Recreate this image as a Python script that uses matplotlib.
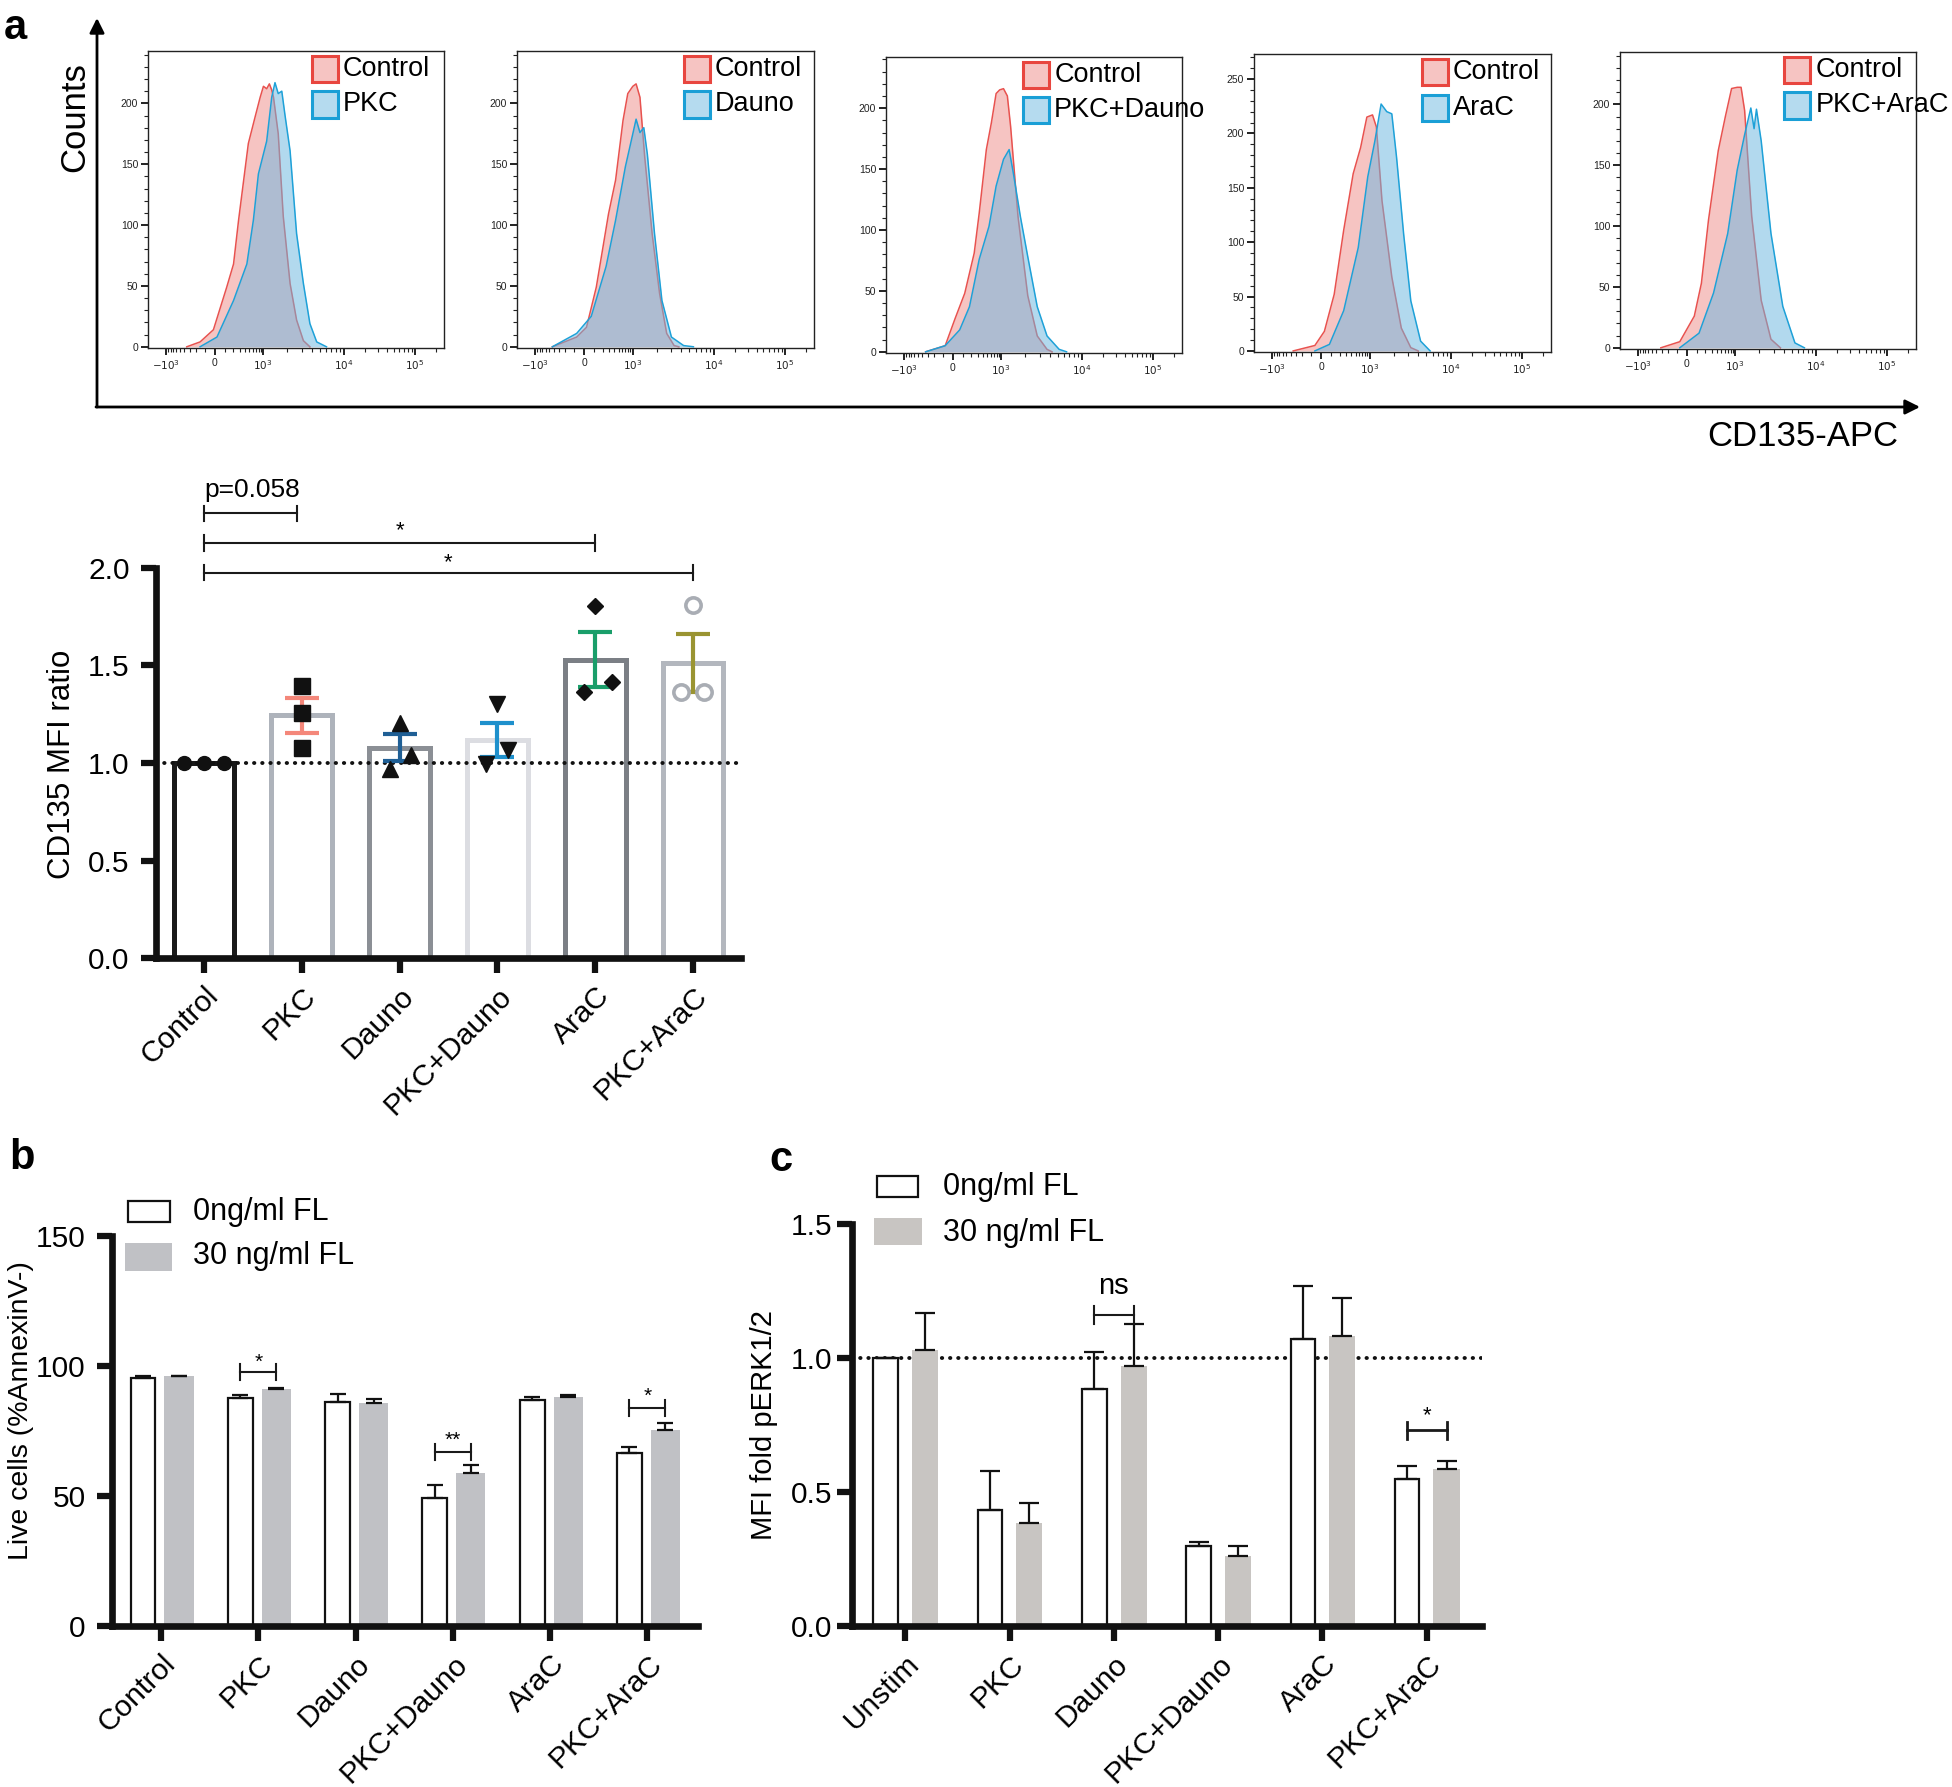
import numpy as np
import matplotlib
matplotlib.use('Agg')
import matplotlib.pyplot as plt
from matplotlib.patches import Rectangle

plt.rcParams['font.family'] = ['Liberation Sans', 'DejaVu Sans']
flow_font = ['Liberation Sans', 'DejaVu Sans']

W, H = 1952, 1787

# ---------------- data ----------------
# flow histograms: x = display channel (0-1000 of the biex axis), y = counts
flow_names = ['PKC', 'Dauno', 'PKC+Dauno', 'AraC', 'PKC+AraC']

ctrl_pos_1 = [131, 176, 221, 266, 289, 306, 339, 362, 379, 390, 401, 410, 418, 424, 440, 457, 480, 502, 525, 547]
ctrl_cnt_1 = [0, 4, 14, 49, 68, 104, 167, 189, 205, 214, 212, 216, 211, 205, 175, 107, 52, 22, 5, 0]
pkc_pos = [176, 233, 289, 334, 356, 373, 401, 418, 429, 440, 452, 463, 480, 502, 525, 547, 570, 603]
pkc_cnt = [0, 8, 38, 68, 104, 142, 169, 205, 217, 208, 210, 190, 161, 93, 52, 19, 4, 0]

ctrl_pos_2 = [119, 201, 234, 267, 308, 332, 357, 373, 390, 401, 414, 430, 455, 480, 504, 529, 545]
ctrl_cnt_2 = [0, 8, 16, 49, 109, 137, 186, 208, 214, 216, 205, 156, 93, 44, 11, 1, 0]
dauno_pos = [119, 201, 250, 300, 332, 365, 390, 401, 414, 427, 439, 463, 488, 520, 561, 594]
dauno_cnt = [0, 11, 25, 66, 104, 148, 175, 187, 176, 180, 158, 93, 38, 8, 1, 0]

ctrl_pos_3 = [134, 200, 233, 266, 298, 315, 339, 356, 372, 384, 397, 410, 421, 446, 479, 511, 544, 561]
ctrl_cnt_3 = [0, 5, 27, 48, 81, 114, 166, 188, 212, 215, 216, 210, 185, 111, 46, 13, 2, 0]
pkcdauno_pos = [134, 200, 249, 282, 315, 348, 372, 397, 416, 430, 454, 479, 511, 544, 585, 610]
pkcdauno_cnt = [0, 5, 18, 37, 76, 103, 136, 158, 166, 147, 111, 78, 37, 13, 2, 0]

ctrl_pos_4 = [132, 205, 237, 270, 302, 334, 359, 380, 399, 412, 431, 464, 496, 528, 553]
ctrl_cnt_4 = [0, 5, 18, 52, 111, 163, 187, 215, 217, 206, 138, 68, 21, 3, 0]
arac_pos = [205, 254, 302, 351, 383, 407, 428, 447, 464, 480, 504, 528, 561, 593]
arac_cnt = [0, 6, 37, 95, 160, 193, 227, 220, 218, 178, 107, 46, 9, 0]

ctrl_pos_5 = [138, 202, 251, 275, 299, 332, 356, 377, 396, 409, 421, 445, 477, 510, 542]
ctrl_cnt_5 = [0, 5, 26, 53, 105, 162, 190, 213, 214, 214, 195, 108, 39, 7, 0]
pkcarac_pos = [202, 267, 316, 364, 396, 421, 442, 453, 461, 477, 510, 550, 591, 623]
pkcarac_cnt = [0, 12, 45, 94, 146, 175, 197, 180, 196, 170, 94, 34, 4, 0]

# panel a: CD135 MFI ratio
groups_a = ['Control', 'PKC', 'Dauno', 'PKC+Dauno', 'AraC', 'PKC+AraC']
mfi_mean = [1.0, 1.245, 1.078, 1.12, 1.53, 1.513]
mfi_sem = [0.0, 0.09, 0.07, 0.087, 0.14, 0.148]
control_pts = [1.0, 1.0, 1.0]
pkc_pts = [1.394, 1.254, 1.075]
dauno_pts = [1.203, 0.97, 1.04]
pkcdauno_pts = [1.30, 0.996, 1.067]
arac_pts = [1.804, 1.362, 1.416]
pkcarac_pts = [1.81, 1.362, 1.362]

# panel b: live cells
groups_b = ['Control', 'PKC', 'Dauno', 'PKC+Dauno', 'AraC', 'PKC+AraC']
live_0 = [95.3, 87.6, 86.0, 49.2, 86.8, 66.5]
live_0_err = [0.8, 1.3, 3.4, 5.2, 1.4, 2.5]
live_30 = [96.0, 91.0, 85.6, 59.0, 88.2, 75.3]
live_30_err = [0.3, 0.6, 1.7, 3.1, 0.7, 2.8]

# panel c: pERK1/2
groups_c = ['Unstim', 'PKC', 'Dauno', 'PKC+Dauno', 'AraC', 'PKC+AraC']
perk_0 = [1.0, 0.433, 0.883, 0.30, 1.07, 0.55]
perk_0_err = [0.0, 0.145, 0.14, 0.0125, 0.20, 0.047]
perk_30 = [1.031, 0.386, 0.969, 0.261, 1.081, 0.586]
perk_30_err = [0.138, 0.072, 0.159, 0.039, 0.142, 0.031]


def frac(l, t, r, b):
    return [l / W, 1 - b / H, (r - l) / W, (b - t) / H]


def biex(v):
    # rough position of a value on the flow display axis
    if v >= 1e4:
        return 662 + 240 * np.log10(v / 1e4)
    if v >= 1e3:
        return 389 + 273 * np.log10(v / 1e3)
    if v >= 0:
        return 226 + 163 * np.arcsinh(v / 200) / np.arcsinh(5)
    return 226 - 165 * np.arcsinh(-v / 200) / np.arcsinh(5)


def bracket(ax, x0, x1, y, h, lw=1.5):
    kw = dict(color='#1a1a1a', lw=lw, clip_on=False, zorder=6)
    ax.plot([x0, x1], [y, y], **kw)
    ax.plot([x0, x0], [y - h, y + h], **kw)
    ax.plot([x1, x1], [y - h, y + h], **kw)


fig = plt.figure(figsize=(W / 100, H / 100), dpi=100)

# overlay for free text / arrows, pixel coords
ov = fig.add_axes([0, 0, 1, 1])
ov.set_xlim(0, W)
ov.set_ylim(H, 0)
ov.axis('off')

ov.annotate('', xy=(97, 18), xytext=(97, 407),
            arrowprops=dict(arrowstyle='-|>', lw=2, color='black', mutation_scale=22, shrinkA=0, shrinkB=0))
ov.annotate('', xy=(1920, 407), xytext=(96, 407),
            arrowprops=dict(arrowstyle='-|>', lw=2, color='black', mutation_scale=22, shrinkA=0, shrinkB=0))
ov.text(75, 117, 'Counts', rotation=90, ha='center', va='center', fontsize=25, family=flow_font)
ov.text(1803, 437, 'CD135-APC', ha='center', va='center', fontsize=25, family=flow_font)

ov.text(15, 28, 'a', fontsize=30, fontweight='bold', ha='center', va='center')
ov.text(22, 1158, 'b', fontsize=30, fontweight='bold', ha='center', va='center')
ov.text(781, 1160, 'c', fontsize=30, fontweight='bold', ha='center', va='center')

# ---------------- flow histograms ----------------
ctrl_pos = [ctrl_pos_1, ctrl_pos_2, ctrl_pos_3, ctrl_pos_4, ctrl_pos_5]
ctrl_cnt = [ctrl_cnt_1, ctrl_cnt_2, ctrl_cnt_3, ctrl_cnt_4, ctrl_cnt_5]
trt_pos = [pkc_pos, dauno_pos, pkcdauno_pos, arac_pos, pkcarac_pos]
trt_cnt = [pkc_cnt, dauno_cnt, pkcdauno_cnt, arac_cnt, pkcarac_cnt]

hist_boxes = [(148, 51, 444, 348), (517, 51, 814, 348), (886, 57, 1182, 353),
              (1254, 54, 1551, 352), (1620, 52, 1916, 349)]
hist_ymax = [243, 243, 242, 273, 243]
leg_x = [0.554, 0.562, 0.463, 0.565, 0.555]

major_vals = [-1e3, 0, 1e3, 1e4, 1e5]
major_lbl = [r'$-10^3$', '0', r'$10^3$', r'$10^4$', r'$10^5$']
minor_vals = ([-m * 100 for m in range(1, 10)] + [m * 100 for m in range(1, 10)] +
              [m * 1e3 for m in range(2, 10)] + [m * 1e4 for m in range(2, 10)] + [2e5])

for i in range(5):
    ax = fig.add_axes(frac(*hist_boxes[i]))
    ax.fill_between(ctrl_pos[i], ctrl_cnt[i], color='#f6c4c2', lw=0, zorder=1)
    ax.plot(ctrl_pos[i], ctrl_cnt[i], color='#e8524f', lw=1.1, zorder=2)
    ax.fill_between(trt_pos[i], trt_cnt[i], color='#6cb6df', alpha=0.52, lw=0, zorder=3)
    ax.plot(trt_pos[i], trt_cnt[i], color='#1ea1d8', lw=1.1, zorder=4)
    ax.set_xlim(0, 1000)
    ax.set_ylim(-1, hist_ymax[i])
    ax.set_xticks([biex(v) for v in major_vals])
    ax.set_xticklabels(major_lbl)
    ax.set_xticks([biex(v) for v in minor_vals], minor=True)
    ax.set_yticks(np.arange(0, hist_ymax[i], 50))
    ax.set_yticks(np.arange(0, hist_ymax[i], 10), minor=True)
    ax.tick_params(which='major', length=5, width=1.4, labelsize=7.5, pad=2, colors='#222')
    ax.tick_params(which='minor', length=3, width=0.8, colors='#222')
    for s in ax.spines.values():
        s.set_linewidth(1.0)
        s.set_color('#222')
    lx = leg_x[i]
    for yc, fc, ec, name in [(0.94, '#f6c4c2', '#e8463f', 'Control'),
                             (0.82, '#b5dbef', '#1a9fd6', flow_names[i])]:
        ax.add_patch(Rectangle((lx, yc - 0.044), 0.088, 0.088, transform=ax.transAxes,
                               facecolor=fc, edgecolor=ec, lw=2.2, clip_on=False, zorder=6))
        ax.text(lx + 0.105, yc, name, transform=ax.transAxes, ha='left', va='center',
                fontsize=19.5, family=flow_font, clip_on=False, zorder=6)

# ---------------- panel a bars ----------------
ax_a = fig.add_axes(frac(156, 568, 741, 958))
xa = np.arange(len(groups_a))
bar_edge_a = ['#1a1a1a', '#aeb3bb', '#8b8f95', '#dcdde2', '#7b7f85', '#b3b7be']
err_col_a = ['#1a1a1a', '#f4877a', '#1f5f95', '#1e90cc', '#1a9e6a', '#9a9432']
pts_a = [control_pts, pkc_pts, dauno_pts, pkcdauno_pts, arac_pts, pkcarac_pts]
jit_a = [[-0.2, 0, 0.21], [0, 0, 0], [0, -0.1, 0.12], [0, -0.12, 0.11], [0, -0.12, 0.17], [0, -0.12, 0.11]]
mk_a = [dict(marker='o', ms=10, mfc='#111', mec='#111'),
        dict(marker='s', ms=11, mfc='#111', mec='#111'),
        dict(marker='^', ms=11, mfc='#111', mec='#111'),
        dict(marker='v', ms=11, mfc='#111', mec='#111'),
        dict(marker='D', ms=8, mfc='#111', mec='#111'),
        dict(marker='o', ms=11, mfc='white', mec='#a9adb4', mew=2.6)]

for i in xa:
    ax_a.bar(i, mfi_mean[i], width=0.62, facecolor='white', edgecolor=bar_edge_a[i],
             linewidth=3.6, zorder=2)
ax_a.axhline(1.0, ls=(0, (0.1, 2.0)), lw=2.8, color='#111', dash_capstyle='round', zorder=3)
for i in xa[1:]:
    ax_a.errorbar(i, mfi_mean[i], yerr=mfi_sem[i], fmt='none', ecolor=err_col_a[i],
                  elinewidth=3, capsize=12.5, capthick=3, zorder=4)
for i in xa:
    ax_a.plot(i + np.array(jit_a[i]), pts_a[i], ls='none', zorder=5, clip_on=False, **mk_a[i])

ax_a.set_xlim(-0.49, 5.49)
ax_a.set_ylim(0, 2.0)
ax_a.set_yticks([0, 0.5, 1.0, 1.5, 2.0])
ax_a.set_yticklabels(['0.0', '0.5', '1.0', '1.5', '2.0'])
ax_a.set_xticks(xa)
ax_a.set_xticklabels(groups_a, rotation=45, ha='right', rotation_mode='anchor')

bracket(ax_a, 0, 0.95, 2.28, 0.04)
ax_a.text(0.49, 2.40, 'p=0.058', ha='center', va='center', fontsize=19, clip_on=False)
bracket(ax_a, 0, 4, 2.128, 0.04)
ax_a.text(2.0, 2.19, '*', ha='center', va='center', fontsize=16, clip_on=False)
bracket(ax_a, 0, 5, 1.976, 0.04)
ax_a.text(2.5, 2.025, '*', ha='center', va='center', fontsize=16, clip_on=False)
ov.text(62, 764, 'CD135 MFI ratio', rotation=90, ha='center', va='center', fontsize=22.5)

# ---------------- panel b ----------------
ax_b = fig.add_axes(frac(112, 1236, 698, 1626))
xb = np.arange(len(groups_b))
ax_b.bar(xb - 0.185, live_0, 0.255, facecolor='white', edgecolor='#111', lw=1.6, zorder=2)
ax_b.bar(xb + 0.185, live_30, 0.3, facecolor='#c0c1c5', lw=0, zorder=2)
ax_b.errorbar(xb - 0.185, live_0, yerr=[np.zeros(6), live_0_err], fmt='none', ecolor='#111',
              elinewidth=1.6, capsize=5.5, capthick=1.6, zorder=3)
ax_b.errorbar(xb + 0.185, live_30, yerr=[np.zeros(6), live_30_err], fmt='none', ecolor='#111',
              elinewidth=1.6, capsize=5.5, capthick=1.6, zorder=3)
ax_b.set_xlim(-0.504, 5.52)
ax_b.set_ylim(0, 150)
ax_b.set_yticks([0, 50, 100, 150])
ax_b.set_xticks(xb)
ax_b.set_xticklabels(groups_b, rotation=45, ha='right', rotation_mode='anchor')
bracket(ax_b, 1 - 0.185, 1 + 0.185, 97.6, 3.0)
ax_b.text(1, 101.5, '*', ha='center', va='center', fontsize=15)
bracket(ax_b, 3 - 0.185, 3 + 0.185, 66.9, 3.0)
ax_b.text(3, 71.5, '**', ha='center', va='center', fontsize=15)
bracket(ax_b, 5 - 0.185, 5 + 0.185, 83.9, 3.0)
ax_b.text(5, 88.3, '*', ha='center', va='center', fontsize=15)
ov.text(21, 1411, 'Live cells (%AnnexinV-)', rotation=90, ha='center', va='center', fontsize=20.5)
ov.add_patch(Rectangle((128, 1201), 42, 21, facecolor='white', edgecolor='#111', lw=1.6))
ov.add_patch(Rectangle((125, 1243), 47, 28, facecolor='#c0c1c5', lw=0))
ov.text(193, 1212, '0ng/ml FL', ha='left', va='center', fontsize=22)
ov.text(193, 1256, '30 ng/ml FL', ha='left', va='center', fontsize=22)

# ---------------- panel c ----------------
ax_c = fig.add_axes(frac(852, 1224, 1482, 1626))
xc = np.arange(len(groups_c))
ax_c.axhline(1.0, ls=(0, (0.1, 2.0)), lw=2.8, color='#111', dash_capstyle='round', zorder=1)
ax_c.bar(xc - 0.187, perk_0, 0.235, facecolor='white', edgecolor='#111', lw=1.6, zorder=2)
ax_c.bar(xc + 0.19, perk_30, 0.25, facecolor='#c8c5c2', lw=0, zorder=2)
ax_c.errorbar(xc - 0.187, perk_0, yerr=[np.zeros(6), perk_0_err], fmt='none', ecolor='#111',
              elinewidth=1.6, capsize=7, capthick=1.6, zorder=3)
ax_c.errorbar(xc + 0.19, perk_30, yerr=[np.zeros(6), perk_30_err], fmt='none', ecolor='#111',
              elinewidth=1.6, capsize=7, capthick=1.6, zorder=3)
ax_c.set_xlim(-0.51, 5.53)
ax_c.set_ylim(0, 1.5)
ax_c.set_yticks([0, 0.5, 1.0, 1.5])
ax_c.set_yticklabels(['0.0', '0.5', '1.0', '1.5'])
ax_c.set_xticks(xc)
ax_c.set_xticklabels(groups_c, rotation=45, ha='right', rotation_mode='anchor')
bracket(ax_c, 2 - 0.19, 2 + 0.19, 1.16, 0.033)
ax_c.text(2, 1.27, 'ns', ha='center', va='center', fontsize=21)
bracket(ax_c, 5 - 0.19, 5 + 0.19, 0.73, 0.033, lw=2)
ax_c.text(5, 0.785, '*', ha='center', va='center', fontsize=16)
ov.text(764, 1425, 'MFI fold pERK1/2', rotation=90, ha='center', va='center', fontsize=21)
ov.add_patch(Rectangle((877, 1176), 41, 21, facecolor='white', edgecolor='#111', lw=1.6))
ov.add_patch(Rectangle((874, 1218), 48, 27, facecolor='#c8c5c2', lw=0))
ov.text(943, 1187, '0ng/ml FL', ha='left', va='center', fontsize=22)
ov.text(943, 1233, '30 ng/ml FL', ha='left', va='center', fontsize=22)

# common styling of the bar panels
for ax, pad in [(ax_a, 8), (ax_b, 8), (ax_c, 3)]:
    for s in ['top', 'right']:
        ax.spines[s].set_visible(False)
    for s in ['left', 'bottom']:
        ax.spines[s].set_linewidth(4.8)
        ax.spines[s].set_color('#111')
    ax.tick_params(axis='both', length=11, width=4.5, color='#111', labelsize=21.5)
    ax.tick_params(axis='y', pad=pad)
    ax.tick_params(axis='x', pad=6)
    ax.patch.set_alpha(0)

fig.savefig('out.png', dpi=100)
